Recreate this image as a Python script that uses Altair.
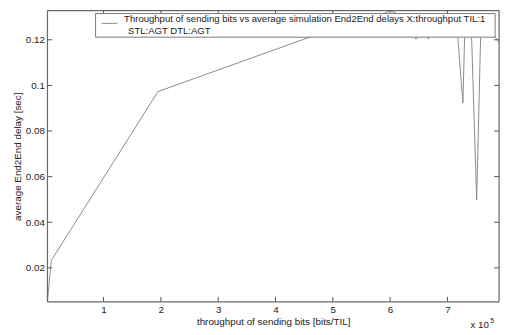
import altair as alt
import pandas as pd

# throughput of sending bits, in units of 1e5 bits/TIL
throughput = [0.02, 0.09, 1.95, 4.57, 5.20, 5.83, 6.00, 6.20, 6.40, 6.45, 6.55, 6.67, 6.72, 6.90,
              7.18, 7.27, 7.30, 7.42, 7.51, 7.58, 7.75, 7.90]
# average End2End delay [sec]
delay = [0.0051, 0.0233, 0.0973, 0.1209, 0.1260, 0.1307, 0.1328, 0.1305, 0.1225, 0.1203, 0.1240,
         0.1203, 0.1235, 0.1245, 0.1215, 0.0922, 0.1215, 0.1225, 0.0497, 0.1225, 0.1240, 0.1190]

x_ticks = [1, 2, 3, 4, 5, 6, 7]
y_ticks = [0.02, 0.04, 0.06, 0.08, 0.10, 0.12]
legend_line1 = "Throughput of sending bits vs average simulation End2End delays X:throughput TIL:1"
legend_line2 = "STL:AGT DTL:AGT"
x_title = "throughput of sending bits [bits/TIL]"
y_title = "average End2End delay [sec]"
x_exp_base = "x 10"
x_exp = "5"

W, H = 459, 296
FONT = "Liberation Sans"
AX = "#555555"
TXT = "#222222"
LINE = "#8a8a8a"
TL = 5

df = pd.DataFrame({"x": throughput, "y": delay})
xdom = [min(throughput), max(throughput)]
ydom = [min(delay), max(delay)]

xs = alt.Scale(domain=xdom, nice=False, zero=False)
ys = alt.Scale(domain=ydom, nice=False, zero=False)

line = alt.Chart(df).mark_line(color=LINE, strokeWidth=1, clip=True).encode(
    x=alt.X("x:Q", scale=xs, axis=alt.Axis(
        values=x_ticks, format="d", tickSize=0, labelPadding=3, domain=False, grid=False,
        labelFont=FONT, labelFontSize=10, labelColor=TXT,
        title=x_title, titleFont=FONT, titleFontSize=10, titleFontWeight="normal",
        titleColor=TXT, titleX=W / 2, titleY=20, titleBaseline="middle")),
    y=alt.Y("y:Q", scale=ys, axis=alt.Axis(
        values=y_ticks, labelExpr="format(datum.value, '.2~f')", tickSize=0, labelPadding=3,
        domain=False, grid=False,
        labelFont=FONT, labelFontSize=10, labelColor=TXT,
        title=y_title, titleFont=FONT, titleFontSize=10, titleFontWeight="normal",
        titleColor=TXT, titleX=-30, titleY=H / 2, titleBaseline="middle")),
)

xt = pd.DataFrame({"x": x_ticks})
yt = pd.DataFrame({"y": y_ticks})

bottom_ticks = alt.Chart(xt).mark_rule(color=AX, strokeWidth=1).encode(
    x=alt.X("x:Q", scale=xs), y=alt.value(H - TL), y2=alt.value(H))
top_ticks = alt.Chart(xt).mark_rule(color=AX, strokeWidth=1).encode(
    x=alt.X("x:Q", scale=xs), y=alt.value(0), y2=alt.value(TL))
left_ticks = alt.Chart(yt).mark_rule(color=AX, strokeWidth=1).encode(
    y=alt.Y("y:Q", scale=ys), x=alt.value(0), x2=alt.value(TL))
right_ticks = alt.Chart(yt).mark_rule(color=AX, strokeWidth=1).encode(
    y=alt.Y("y:Q", scale=ys), x=alt.value(W - TL), x2=alt.value(W))

one = pd.DataFrame({"a": [0]})
frame = alt.Chart(one).mark_rect(fill=None, stroke=AX, strokeWidth=1).encode(
    x=alt.value(0), x2=alt.value(W), y=alt.value(0), y2=alt.value(H))

leg_box = alt.Chart(one).mark_rect(fill="white", stroke="#777777", strokeWidth=1).encode(
    x=alt.value(49), x2=alt.value(455), y=alt.value(3), y2=alt.value(27))
leg_line = alt.Chart(one).mark_rule(color=LINE, strokeWidth=1).encode(
    x=alt.value(55), x2=alt.value(71), y=alt.value(13))
leg_text1 = alt.Chart(pd.DataFrame({"t": [legend_line1]})).mark_text(
    font=FONT, fontSize=9.7, color=TXT, align="left", baseline="middle").encode(
    x=alt.value(78), y=alt.value(9), text="t:N")
leg_text2 = alt.Chart(pd.DataFrame({"t": [legend_line2]})).mark_text(
    font=FONT, fontSize=9.7, color=TXT, align="left", baseline="middle").encode(
    x=alt.value(82), y=alt.value(20.5), text="t:N")

exp_base = alt.Chart(pd.DataFrame({"t": [x_exp_base]})).mark_text(
    font=FONT, fontSize=10, color=TXT, align="left", baseline="middle").encode(
    x=alt.value(W - 29), y=alt.value(H + 24), text="t:N")
exp_sup = alt.Chart(pd.DataFrame({"t": [x_exp]})).mark_text(
    font=FONT, fontSize=7, color=TXT, align="left", baseline="middle").encode(
    x=alt.value(W - 9), y=alt.value(H + 19), text="t:N")

chart = alt.layer(
    line, frame, bottom_ticks, top_ticks, left_ticks, right_ticks,
    leg_box, leg_line, leg_text1, leg_text2, exp_base, exp_sup
).properties(
    width=W, height=H,
    autosize=alt.AutoSizeParams(type="none"),
    padding={"left": 40, "top": 0, "right": 1, "bottom": 28},
).configure_view(stroke=None).configure(background="white")

chart.save("out.html", embed_options={"renderer": "svg", "actions": False})
